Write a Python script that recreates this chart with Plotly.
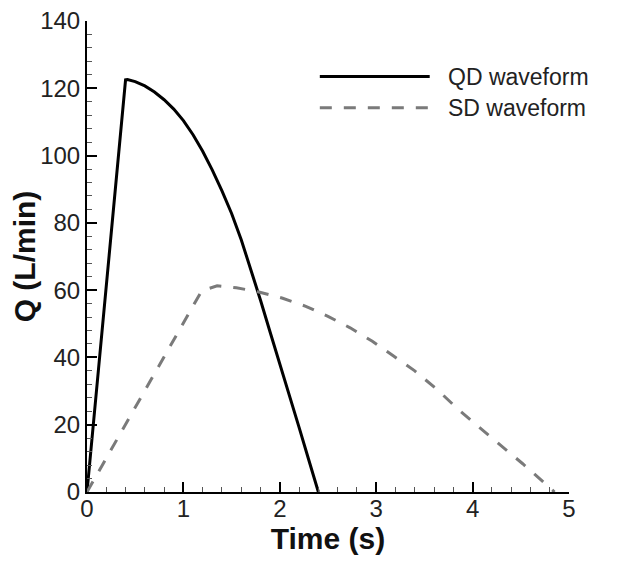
import plotly.graph_objects as go

# QD waveform (time in s, flow in L/min)
qd_t = [0.0, 0.40, 0.42, 0.50, 0.60, 0.70, 0.80, 0.90, 1.00, 1.10, 1.20, 1.30, 1.40, 1.50,
        1.60, 1.70, 1.80, 1.90, 2.00, 2.10, 2.20, 2.30, 2.40]
qd_q = [0.0, 122.5, 122.6, 122.0, 120.7, 118.9, 116.6, 113.8, 110.4, 106.2, 101.3, 95.7, 89.5, 82.8,
        75.0, 66.3, 57.0, 47.5, 38.3, 28.8, 19.2, 9.6, 0.0]

# SD waveform
sd_t = [0.0, 1.19, 1.35, 1.55, 1.76, 2.03, 2.27, 2.50, 2.73, 2.96, 3.18, 3.40, 3.63, 3.85, 4.07, 4.30, 4.52, 4.85]
sd_q = [0.0, 59.8, 61.3, 60.7, 59.6, 57.6, 55.2, 52.2, 48.8, 44.8, 40.4, 36.0, 30.5, 24.6, 19.2, 13.8, 8.4, 0.0]

series_names = ["QD waveform", "SD waveform"]
x_ticks = [0, 1, 2, 3, 4, 5]
y_ticks = [0, 20, 40, 60, 80, 100, 120, 140]

FONT = "Liberation Sans, Arial, sans-serif"

fig = go.Figure()
fig.add_trace(go.Scatter(x=qd_t, y=qd_q, mode="lines", name=series_names[0],
                         line=dict(color="#000000", width=3), showlegend=False))
fig.add_trace(go.Scatter(x=sd_t, y=sd_q, mode="lines", name=series_names[1],
                         line=dict(color="#7a7a7a", width=3, dash="12px,12px"), showlegend=False))

# legend drawn like the reference (long line samples)
legend_rows = [(0.882, dict(color="#000000", width=3, dash="solid")),
               (0.816, dict(color="#7a7a7a", width=3, dash="12px,12px"))]
for name, (yy, ln) in zip(series_names, legend_rows):
    fig.add_shape(type="line", xref="paper", yref="paper", x0=0.483, x1=0.711, y0=yy, y1=yy, line=ln)
    fig.add_annotation(xref="paper", yref="paper", x=0.745, y=yy, text=name, showarrow=False,
                       xanchor="left", yanchor="middle", font=dict(family=FONT, size=23, color="#222222"))

axis_common = dict(showline=True, linecolor="#000000", linewidth=2, ticks="inside", ticklen=10,
                   tickwidth=2, tickcolor="#000000", showgrid=False, zeroline=False, mirror=False,
                   automargin=False, ticklabeloverflow="allow",
                   tickfont=dict(family=FONT, size=24, color="#222222"))

fig.update_xaxes(range=[0, 5], tickvals=x_ticks, ticktext=[str(v) for v in x_ticks],
                 ticklabelstandoff=-6,
                 minor=dict(ticks="inside", dtick=0.2, ticklen=5, tickwidth=1, tickcolor="#555555"),
                 title=dict(text="<b>Time (s)</b>", font=dict(family=FONT, size=30, color="#111111"), standoff=0),
                 **axis_common)
fig.update_yaxes(range=[0, 140], tickvals=y_ticks, ticktext=[str(v) for v in y_ticks],
                 minor=dict(ticks="inside", dtick=4, ticklen=5, tickwidth=1, tickcolor="#555555"),
                 title=dict(text="<b>Q (L/min)</b>", font=dict(family=FONT, size=30, color="#111111"), standoff=3),
                 **axis_common)

fig.update_layout(width=624, height=566, plot_bgcolor="white", paper_bgcolor="white",
                  margin=dict(l=79, r=63, t=13, b=82, autoexpand=False), showlegend=False)

fig.write_html("out.html")
